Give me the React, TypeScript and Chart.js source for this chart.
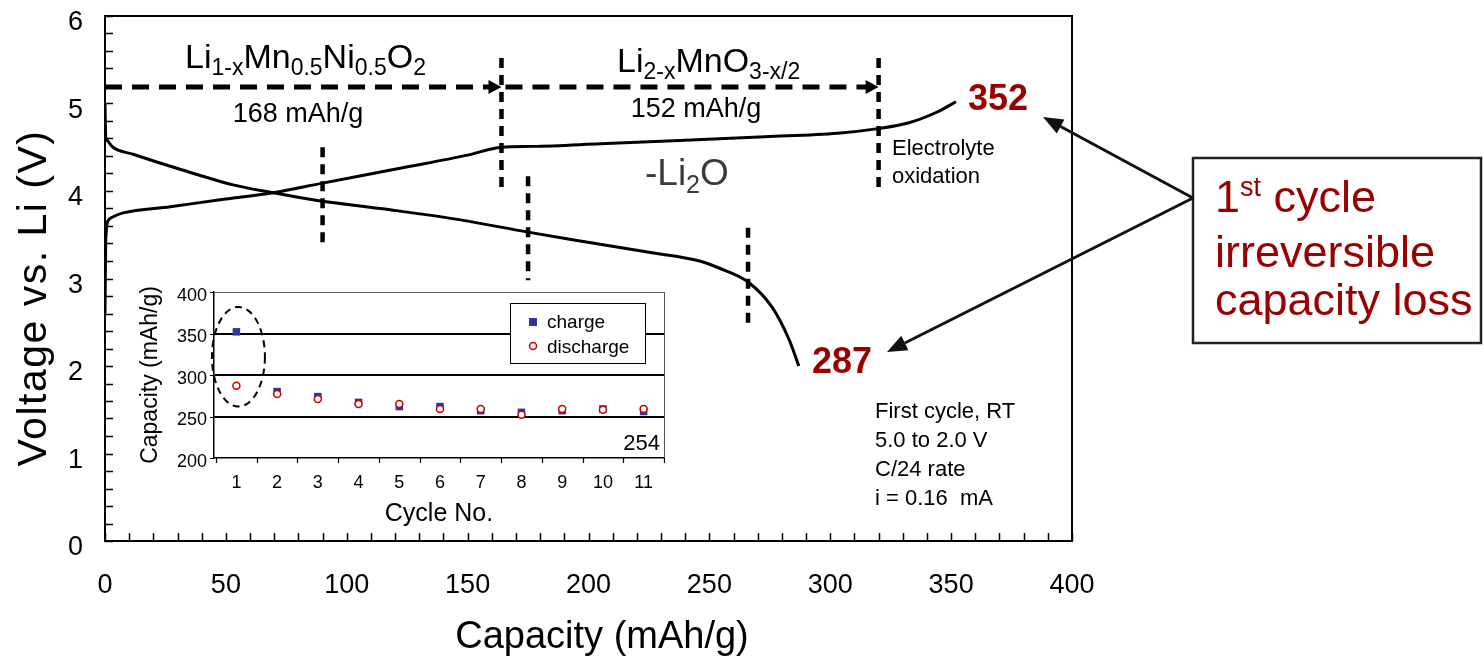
import React, { useEffect, useRef } from "react";
import { Chart, registerables } from "chart.js";

Chart.register(...registerables);

const FONT = "'Liberation Sans', Arial, Helvetica, sans-serif";
const DARK_RED = "#990000";

// First cycle, charge branch: capacity (mAh/g) and cell voltage (V)
const chargeCapacity = [0, 0.3, 1.5, 3, 7.5, 27, 47.6, 69.5, 90, 122, 150, 164, 177, 205, 240, 273, 303, 319, 332.6, 344, 352];
const chargeVoltage = [2.6, 3.44, 3.67, 3.7, 3.75, 3.82, 3.9, 3.98, 4.09, 4.26, 4.41, 4.5, 4.51, 4.54, 4.58, 4.62, 4.66, 4.71, 4.78, 4.9, 5.02];

// First cycle, discharge branch
const dischargeCapacity = [0, 0.3, 0.8, 3.3, 11.6, 32, 53, 69.5, 86, 122, 147, 175, 194, 225, 246, 254, 266, 276, 283, 287];
const dischargeVoltage = [5.0, 4.62, 4.58, 4.5, 4.42, 4.24, 4.07, 3.98, 3.9, 3.77, 3.67, 3.53, 3.44, 3.3, 3.2, 3.12, 2.96, 2.67, 2.3, 2.0];

// Dashed vertical markers: capacity position and the voltage span they cover
const markerCapacity = [90, 164, 175, 266, 320];
const markerTop = [4.5, 5.52, 4.17, 3.58, 5.52];
const markerBottom = [3.35, 4.03, 2.98, 2.45, 4.03];

// Horizontal dashed arrows delimiting the two charge regions
const arrowVoltage = 5.19;
const arrowStops = [0, 164, 320];

// Axis ticks
const voltageTicks = [0, 1, 2, 3, 4, 5, 6];
const capacityTicks = [0, 50, 100, 150, 200, 250, 300, 350, 400];

// Cycling inset
const cycles = [1, 2, 3, 4, 5, 6, 7, 8, 9, 10, 11];
const chargeByCycle = [352, 280, 274, 267, 262, 262, 257, 255, 257, 259, 256];
const dischargeByCycle = [287, 277, 271, 265, 265, 259, 259, 252, 259, 258, 259];
const insetCapacityTicks = [200, 250, 300, 350, 400];

type Run = { text: string; size: number; shift?: number; weight?: string };

function drawRuns(ctx: CanvasRenderingContext2D, runs: Run[], x: number, y: number, color: string) {
  let cx = x;
  ctx.fillStyle = color;
  ctx.textAlign = "left";
  ctx.textBaseline = "alphabetic";
  for (const r of runs) {
    ctx.font = `${r.weight ?? "normal"} ${r.size}px ${FONT}`;
    ctx.fillText(r.text, cx, y + (r.shift ?? 0));
    cx += ctx.measureText(r.text).width;
  }
}

function text(ctx: CanvasRenderingContext2D, s: string, x: number, y: number, size: number, opts: { align?: CanvasTextAlign; weight?: string; color?: string } = {}) {
  ctx.font = `${opts.weight ?? "normal"} ${size}px ${FONT}`;
  ctx.fillStyle = opts.color ?? "#000";
  ctx.textAlign = opts.align ?? "left";
  ctx.textBaseline = "alphabetic";
  ctx.fillText(s, x, y);
}

function arrow(ctx: CanvasRenderingContext2D, x0: number, y0: number, x1: number, y1: number, len: number, half: number) {
  const ang = Math.atan2(y1 - y0, x1 - x0);
  const bx = x1 - Math.cos(ang) * len;
  const by = y1 - Math.sin(ang) * len;
  ctx.beginPath();
  ctx.moveTo(x0, y0);
  ctx.lineTo(bx, by);
  ctx.stroke();
  ctx.beginPath();
  ctx.moveTo(x1, y1);
  ctx.lineTo(bx + Math.sin(ang) * half, by - Math.cos(ang) * half);
  ctx.lineTo(bx - Math.sin(ang) * half, by + Math.cos(ang) * half);
  ctx.closePath();
  ctx.fill();
}

const mainDecor = {
  id: "mainDecor",
  afterDatasetsDraw(chart: any) {
    const { ctx, chartArea: a, scales } = chart;
    const X = (v: number) => scales.x.getPixelForValue(v);
    const Y = (v: number) => scales.y.getPixelForValue(v);
    ctx.save();

    // plot frame
    ctx.strokeStyle = "#000";
    ctx.lineWidth = 2;
    ctx.strokeRect(a.left, a.top, a.right - a.left, a.bottom - a.top);

    // inward minor tick marks
    ctx.lineWidth = 1.5;
    ctx.beginPath();
    for (let i = 0; i <= 30; i++) {
      const y = Math.round(Y(i * 0.2)) + 0.5;
      ctx.moveTo(a.left, y);
      ctx.lineTo(a.left + 8, y);
    }
    for (let c = 0; c <= 400; c += 10) {
      const x = Math.round(X(c)) + 0.5;
      ctx.moveTo(x, a.bottom);
      ctx.lineTo(x, a.bottom - 8);
    }
    ctx.stroke();

    // dashed vertical markers
    ctx.strokeStyle = "#000";
    ctx.lineWidth = 4.5;
    ctx.setLineDash([10, 7]);
    markerCapacity.forEach((c, i) => {
      ctx.beginPath();
      ctx.moveTo(X(c), Y(markerTop[i]));
      ctx.lineTo(X(c), Y(markerBottom[i]));
      ctx.stroke();
    });

    // dashed horizontal arrows
    ctx.lineWidth = 5;
    ctx.setLineDash([17, 10]);
    ctx.fillStyle = "#000";
    const ay = Y(arrowVoltage);
    for (let i = 0; i < arrowStops.length - 1; i++) {
      const x0 = X(arrowStops[i]) + (i > 0 ? 4 : 0);
      const x1 = X(arrowStops[i + 1]);
      ctx.beginPath();
      ctx.moveTo(x0, ay);
      ctx.lineTo(x1 - 12, ay);
      ctx.stroke();
      ctx.beginPath();
      ctx.moveTo(x1, ay);
      ctx.lineTo(x1 - 13, ay - 7);
      ctx.lineTo(x1 - 13, ay + 7);
      ctx.closePath();
      ctx.fill();
    }
    ctx.setLineDash([]);

    // region labels
    drawRuns(ctx, [
      { text: "Li", size: 34 },
      { text: "1-x", size: 23, shift: 7 },
      { text: "Mn", size: 34 },
      { text: "0.5", size: 23, shift: 7 },
      { text: "Ni", size: 34 },
      { text: "0.5", size: 23, shift: 7 },
      { text: "O", size: 34 },
      { text: "2", size: 23, shift: 7 },
    ], 185, 68, "#000");
    text(ctx, "168 mAh/g", 298, 122, 27, { align: "center" });

    drawRuns(ctx, [
      { text: "Li", size: 34 },
      { text: "2-x", size: 23, shift: 7 },
      { text: "MnO", size: 34 },
      { text: "3-x/2", size: 23, shift: 7 },
    ], 617, 72, "#000");
    text(ctx, "152 mAh/g", 696, 117, 27, { align: "center" });

    drawRuns(ctx, [
      { text: "-Li", size: 37 },
      { text: "2", size: 25, shift: 8 },
      { text: "O", size: 37 },
    ], 645, 185, "#3a3a3a");

    text(ctx, "Electrolyte", 892, 155, 22);
    text(ctx, "oxidation", 892, 183, 22);

    text(ctx, "352", 968, 110, 36, { weight: "bold", color: DARK_RED });
    text(ctx, "287", 812, 373, 36, { weight: "bold", color: DARK_RED });

    ["First cycle, RT", "5.0 to 2.0 V", "C/24 rate", "i = 0.16  mA"].forEach((s, i) => {
      text(ctx, s, 875, 418 + i * 29, 22);
    });

    // axis titles
    ctx.save();
    ctx.translate(35, 298);
    ctx.rotate(-Math.PI / 2);
    ctx.font = `normal 41px ${FONT}`;
    (ctx as any).letterSpacing = "1.5px";
    ctx.fillStyle = "#000";
    ctx.textAlign = "center";
    ctx.textBaseline = "middle";
    ctx.fillText("Voltage vs. Li (V)", 0, 0);
    ctx.restore();
    text(ctx, "Capacity (mAh/g)", 602, 648, 38, { align: "center" });

    // callout box
    ctx.strokeStyle = "#222";
    ctx.lineWidth = 2.5;
    ctx.strokeRect(1193, 158, 288, 185);
    drawRuns(ctx, [
      { text: "1", size: 45 },
      { text: "st", size: 27, shift: -16 },
      { text: " cycle", size: 45 },
    ], 1215, 212, DARK_RED);
    text(ctx, "irreversible", 1215, 267, 45, { color: DARK_RED });
    text(ctx, "capacity loss", 1215, 315, 45, { color: DARK_RED });

    // callout arrows
    ctx.strokeStyle = "#111";
    ctx.fillStyle = "#111";
    ctx.lineWidth = 3;
    arrow(ctx, 1193, 198, 1043, 117, 20, 8);
    arrow(ctx, 1193, 198, 887, 352, 20, 8);

    ctx.restore();
  },
};

const insetDecor = {
  id: "insetDecor",
  afterDatasetsDraw(chart: any) {
    const { ctx, chartArea: a, scales } = chart;
    const X = (v: number) => scales.x.getPixelForValue(v);
    const Y = (v: number) => scales.y.getPixelForValue(v);
    ctx.save();

    // right edge of the plot box
    ctx.strokeStyle = "#555";
    ctx.lineWidth = 1;
    ctx.beginPath();
    ctx.moveTo(Math.round(a.right) + 0.5, a.top);
    ctx.lineTo(Math.round(a.right) + 0.5, a.bottom);
    ctx.stroke();

    // outward tick marks
    ctx.strokeStyle = "#000";
    ctx.lineWidth = 1.2;
    ctx.beginPath();
    for (let k = 0; k <= 11; k++) {
      const x = Math.round(X(k + 0.5)) + 0.5;
      ctx.moveTo(x, a.bottom);
      ctx.lineTo(x, a.bottom + 5);
    }
    insetCapacityTicks.forEach((v) => {
      const y = Math.round(Y(v)) + 0.5;
      ctx.moveTo(a.left - 4, y);
      ctx.lineTo(a.left, y);
    });
    ctx.stroke();

    // dashed ellipse around the first cycle
    const cx = X(1.05);
    const cy = Y(322);
    const rx = X(1.7) - X(1.05);
    const ry = Y(262) - Y(322);
    ctx.setLineDash([7, 5]);
    ctx.lineWidth = 2;
    ctx.beginPath();
    ctx.ellipse(cx, cy, rx, ry, 0, 0, Math.PI * 2);
    ctx.stroke();
    ctx.setLineDash([]);

    // legend
    const ds = chart.data.datasets;
    const lx = 380, ly = 23, lw = 135, lh = 60;
    ctx.fillStyle = "#fff";
    ctx.fillRect(lx, ly, lw, lh);
    ctx.strokeStyle = "#000";
    ctx.lineWidth = 1;
    ctx.strokeRect(lx + 0.5, ly + 0.5, lw, lh);
    ctx.fillStyle = ds[1].backgroundColor;
    ctx.fillRect(399, 38, 8, 8);
    ctx.beginPath();
    ctx.arc(403, 66, 3.5, 0, Math.PI * 2);
    ctx.fillStyle = ds[0].backgroundColor;
    ctx.fill();
    ctx.strokeStyle = ds[0].borderColor;
    ctx.lineWidth = 1.5;
    ctx.stroke();
    text(ctx, ds[1].label, 417, 48, 19);
    text(ctx, ds[0].label, 417, 73, 19);

    text(ctx, "254", a.right - 4, 170, 22, { align: "right" });
    ctx.restore();
  },
};

export default function App() {
  const mainRef = useRef<HTMLCanvasElement>(null);
  const insetRef = useRef<HTMLCanvasElement>(null);

  useEffect(() => {
    const tickFont = { family: FONT, size: 27 };
    const main = new Chart(mainRef.current!, {
      type: "scatter",
      data: {
        datasets: [
          {
            label: "charge",
            data: chargeCapacity.map((x, i) => ({ x, y: chargeVoltage[i] })),
            showLine: true,
            borderColor: "#000",
            borderWidth: 3,
            pointRadius: 0,
            cubicInterpolationMode: "monotone",
          },
          {
            label: "discharge",
            data: dischargeCapacity.map((x, i) => ({ x, y: dischargeVoltage[i] })),
            showLine: true,
            borderColor: "#000",
            borderWidth: 3,
            pointRadius: 0,
            cubicInterpolationMode: "monotone",
          },
        ],
      },
      options: {
        animation: false,
        responsive: false,
        maintainAspectRatio: false,
        events: [],
        layout: { autoPadding: false, padding: { left: 0, top: 16, right: 412, bottom: 0 } },
        plugins: { legend: { display: false }, tooltip: { enabled: false } },
        scales: {
          x: {
            type: "linear",
            min: 0,
            max: 400,
            afterBuildTicks: (s: any) => { s.ticks = capacityTicks.map((value) => ({ value })); },
            ticks: { font: tickFont, color: "#000", padding: 28, maxRotation: 0 },
            grid: { display: false, drawTicks: false },
            border: { display: true, color: "#000", width: 2 },
            afterFit: (s: any) => { s.height = 116; s.paddingLeft = 0; s.paddingRight = 0; },
          },
          y: {
            type: "linear",
            min: 0,
            max: 6,
            afterBuildTicks: (s: any) => { s.ticks = voltageTicks.map((value) => ({ value })); },
            ticks: { font: tickFont, color: "#000", padding: 22, labelOffset: 7 },
            grid: { display: false, drawTicks: false },
            border: { display: true, color: "#000", width: 2 },
            afterFit: (s: any) => { s.width = 105; s.paddingTop = 0; s.paddingBottom = 0; },
          },
        },
      },
      plugins: [mainDecor],
    } as any);

    const insetTick = { family: FONT, size: 18 };
    const inset = new Chart(insetRef.current!, {
      type: "scatter",
      data: {
        datasets: [
          {
            label: "discharge",
            data: cycles.map((x, i) => ({ x, y: dischargeByCycle[i] })),
            pointStyle: "circle",
            pointRadius: 3.5,
            backgroundColor: "#ffffff",
            borderColor: "#cc0000",
            borderWidth: 1.5,
            order: 0,
          },
          {
            label: "charge",
            data: cycles.map((x, i) => ({ x, y: chargeByCycle[i] })),
            pointStyle: "rect",
            pointRadius: 5.3,
            backgroundColor: "#333399",
            borderColor: "#333399",
            borderWidth: 0,
            order: 1,
          },
        ],
      },
      options: {
        animation: false,
        responsive: false,
        maintainAspectRatio: false,
        events: [],
        layout: { autoPadding: false, padding: { left: 0, top: 12, right: 11, bottom: 0 } },
        plugins: { legend: { display: false }, tooltip: { enabled: false } },
        scales: {
          x: {
            type: "linear",
            min: 0.45,
            max: 11.5,
            afterBuildTicks: (s: any) => { s.ticks = cycles.map((value) => ({ value })); },
            ticks: { font: insetTick, color: "#000", padding: 14, maxRotation: 0 },
            grid: { display: false, drawTicks: false },
            border: { display: true, color: "#000", width: 1.5 },
            title: { display: true, text: "Cycle No.", color: "#000", font: { family: FONT, size: 25 }, padding: { top: 0, bottom: 6 } },
            afterFit: (s: any) => { s.height = 77; s.paddingLeft = 0; s.paddingRight = 0; },
          },
          y: {
            type: "linear",
            min: 200,
            max: 400,
            afterBuildTicks: (s: any) => { s.ticks = insetCapacityTicks.map((value) => ({ value })); },
            ticks: { font: insetTick, color: "#000", padding: 7, labelOffset: 4 },
            grid: {
              drawTicks: false,
              color: (c: any) => (c.tick && c.tick.value === 400 ? "#666" : "#000"),
              lineWidth: (c: any) => (c.tick && c.tick.value === 200 ? 0 : c.tick && c.tick.value === 400 ? 1 : 2),
            },
            border: { display: true, color: "#000", width: 1.5 },
            title: { display: true, text: "Capacity (mAh/g)", color: "#000", font: { family: FONT, size: 23 }, padding: { top: 7, bottom: 0 } },
            afterFit: (s: any) => { s.width = 84; s.paddingTop = 0; s.paddingBottom = 0; },
          },
        },
      },
      plugins: [insetDecor],
    } as any);

    return () => {
      main.destroy();
      inset.destroy();
    };
  }, []);

  return (
    <div style={{ position: "absolute", left: 0, top: 0, width: 1484, height: 657, background: "#fff", overflow: "hidden" }}>
      <canvas ref={mainRef} width={1484} height={657} style={{ position: "absolute", left: 0, top: 0 }} />
      <canvas ref={insetRef} width={545} height={255} style={{ position: "absolute", left: 130, top: 280 }} />
    </div>
  );
}
